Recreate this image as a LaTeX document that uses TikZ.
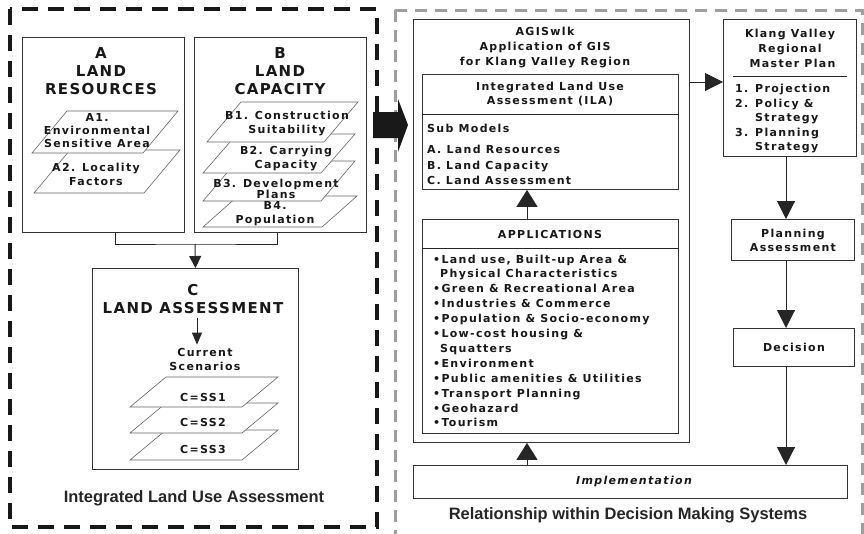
\documentclass[tikz,border=0pt]{standalone}
\usepackage{fontspec}
\setmainfont{DejaVu Sans}
\newfontfamily\bodyf{DejaVu Sans}[LetterSpace=12]
\newfontfamily\bigf{DejaVu Sans}[LetterSpace=9]
\newfontfamily\arialf{Liberation Sans}
\usetikzlibrary{arrows.meta}
\newcommand\bodyfont{\bodyf\bfseries\fontsize{11}{14}\selectfont}
\newcommand\itfont{\bodyf\bfseries\itshape\fontsize{11}{14}\selectfont}
\newcommand\bigfont{\bigf\bfseries\fontsize{15}{18}\selectfont}
\newcommand\capfont{\arialf\bfseries\fontsize{16.5}{18}\selectfont}
\newcommand\pgram[5]{\draw[pg] (#1,#2) -- ++(#3,0) -- ++(#5,-#4) -- ++(-#3,0) -- cycle;}
\begin{document}
\begin{tikzpicture}[x=1pt,y=-1pt,
  box/.style={draw=black!80, line width=0.9pt, fill=white, inner sep=0pt},
  pg/.style={draw=black!60, line width=0.6pt, fill=white},
  t/.style={font=\bodyfont, align=center, inner sep=0pt, text=black!90},
  bt/.style={font=\bigfont, align=center, inner sep=0pt, text=black!90},
  captxt/.style={font=\capfont, inner sep=0pt, text=black!85},
  conn/.style={draw=black!85, line width=1pt},
  arrB/.style={conn, -{Triangle[width=18pt,length=18pt]}},
  arrU/.style={conn, -{Triangle[width=21pt,length=17pt]}},
  arrS/.style={conn, -{Triangle[width=12pt,length=12pt]}},
  arrC/.style={conn, -{Triangle[width=10pt,length=12pt]}},
]
\useasboundingbox (0,0) rectangle (864,533);
% dashed frames
\draw[black!90, line width=3.6pt, dash pattern=on 16pt off 10pt] (10,9) rectangle (377,527);
\draw[black!38, line width=3pt, dash pattern=on 12pt off 8pt] (395,10) -- (862,10) -- (862,545);
\draw[black!38, line width=3pt, dash pattern=on 12pt off 8pt] (395,10) -- (395,545);

% ---------- left part ----------
\node[box, anchor=north west, minimum width=162pt, minimum height=195pt] (A) at (22,37) {};
\node[box, anchor=north west, minimum width=172pt, minimum height=195pt] (B) at (194,37) {};
\node[box, anchor=north west, minimum width=206pt, minimum height=201pt] (C) at (92,268) {};

\node[bt] (At) at (101,71) {A\\LAND\\RESOURCES};
\node[bt] (Bt) at (280,71) {B\\LAND\\CAPACITY};

\pgram{34}{193}{110}{43}{36}
\pgram{32}{153}{111}{42}{35}
\node[t] (A1) at (97,131) {A1.\\[-1pt]Environmental\\[-1pt]Sensitive Area};
\node[t] (A2) at (96,174) {A2. Locality\\Factors};

\pgram{203}{227}{119}{31}{35}
\pgram{203}{201}{118}{40}{34}
\pgram{203}{173}{118}{39}{34}
\pgram{207}{142}{117}{40}{34}
\node[t] (B1) at (287,123.5) {B1. Construction\\Suitability};
\node[t] (B2) at (286,159) {B2. Carrying\\Capacity};
\node[t] (B3) at (276,188.5) {B3. Development\\[-3pt]Plans};
\node[t] (B4) at (275,214) {B4.\\Population};

\coordinate (j) at (195,244);
\draw[conn] ([xshift=12pt]A.south) |- (j) -| ([xshift=-3pt]B.south);
\draw[arrS] (j) -- (C.north);

\node[bt] (Ct) at (193,299) {C\\LAND ASSESSMENT};
\node[t] (Cs) at (205,359) {Current\\Scenarios};
\draw[arrC] ([xshift=4pt,yshift=-4pt]Ct.south) -- ([xshift=-8pt,yshift=3pt]Cs.north);

\pgram{130}{460}{112}{30}{36}
\pgram{130}{433}{112}{30}{36}
\pgram{130}{407}{112}{30}{36}
\node[t] (s1) at (203,397) {C=SS1};
\node[t] (s2) at (203,422) {C=SS2};
\node[t] (s3) at (203,449) {C=SS3};

\node[captxt] (capL) at (194,498) {Integrated Land Use Assessment};

% big arrow
\fill[black!90] (373,112) -- (398,112) -- (398,99) -- (408,125) -- (398,152) -- (398,138) -- (373,138) -- cycle;

% ---------- right part ----------
\node[box, anchor=north west, minimum width=276pt, minimum height=423pt] (AG) at (413,19) {};
\node[t] (AGt) at (545,48) {AGISwlk\\[1pt]Application of GIS\\[1pt]for Klang Valley Region};
\node[box, anchor=north west, minimum width=256pt, minimum height=115pt] (ILA) at (422,74) {};
\coordinate (h1) at (0,114);
\draw[conn, line width=0.9pt] (h1 -| ILA.west) -- (h1 -| ILA.east);
\node[t] (ILAt) at (550,94.5) {Integrated Land Use\\Assessment (ILA)};
\node[t, anchor=west] (sm) at (427,128) {Sub Models};
\node[t, anchor=west, align=left] (smA) at (427,165) {A. Land Resources\\[2pt]B. Land Capacity\\[1pt]C. Land Assessment};

\node[box, anchor=north west, minimum width=256pt, minimum height=214pt] (APP) at (422,219) {};
\coordinate (h2) at (0,248);
\draw[conn, line width=0.9pt] (h2 -| APP.west) -- (h2 -| APP.east);
\node[t] (APPt) at (550,234) {APPLICATIONS};
\node[t, anchor=north west, align=left, font=\bodyf\bfseries\fontsize{11}{14.9}\selectfont] (apl) at (433,254.5)
{•Land use, Built-up Area \&\\\phantom{•}Physical Characteristics\\•Green \& Recreational Area\\•Industries \& Commerce\\•Population \& Socio-economy\\•Low-cost housing \&\\\phantom{•}Squatters\\•Environment\\•Public amenities \& Utilities\\•Transport Planning\\•Geohazard\\•Tourism};

\node[box, anchor=north west, minimum width=434pt, minimum height=33pt] (IMP) at (413,465) {};
\node[t, font=\itfont] (IMPt) at (634,481) {Implementation};

\node[captxt] (capR) at (628,515) {Relationship within Decision Making Systems};

\node[box, anchor=north west, minimum width=133pt, minimum height=137pt] (KV) at (723,19) {};
\node[t] (KVt) at (790,48) {Klang Valley\\[1pt]Regional\\[1pt]\ Master Plan};
\coordinate (s1a) at (733,76);
\coordinate (s1b) at (847,76);
\draw[conn, line width=0.9pt] (s1a) -- (s1b);
\node[t, anchor=north west, align=left, font=\bodyf\bfseries\fontsize{11}{14.5}\selectfont] (KVl) at (735,84)
{1. Projection\\2. Policy \&\\\phantom{2. }Strategy\\3. Planning\\\phantom{2. }Strategy};

\node[box, anchor=north west, minimum width=123pt, minimum height=41pt, t] (PA) at (731,219) {Planning\\Assessment};
\node[box, anchor=north west, minimum width=121pt, minimum height=38pt, t] (DEC) at (733,328) {Decision};

\coordinate (u) at (527,0);
\coordinate (v) at (786,0);
\coordinate (k) at (700,82);
\draw[arrB] (k -| AG.east) -- (k -| KV.west);
\draw[arrB] (KV.south -| v) -- (PA.north -| v);
\draw[arrB] (PA.south -| v) -- (DEC.north -| v);
\draw[arrB] (DEC.south -| v) -- (IMP.north -| v);
\draw[arrU] (APP.north -| u) -- (ILA.south -| u);
\draw[arrU] (IMP.north -| u) -- (AG.south -| u);
\end{tikzpicture}
\end{document}
